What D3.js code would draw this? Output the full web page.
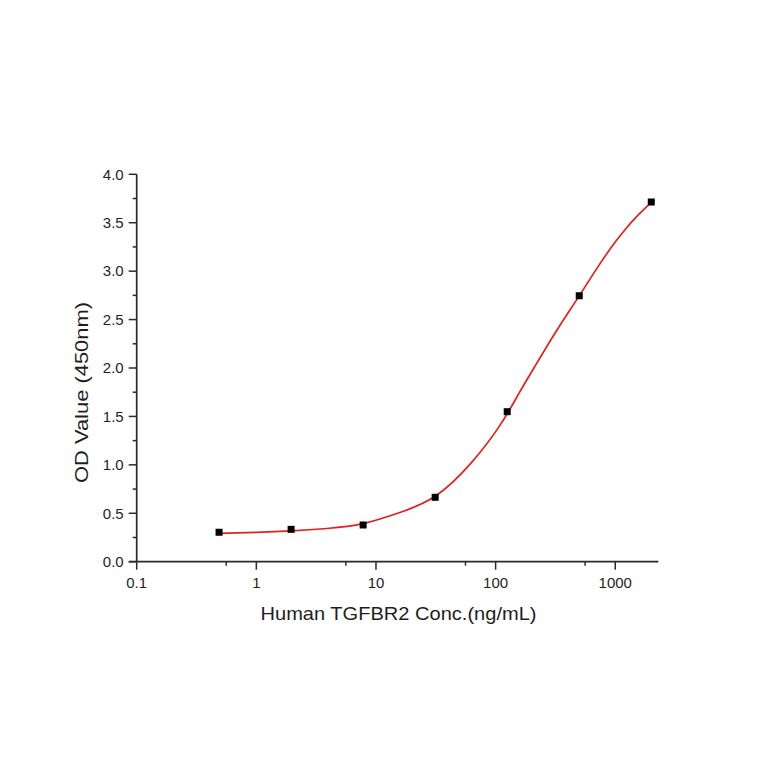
<!DOCTYPE html>
<html>
<head>
<meta charset="utf-8">
<script src="https://cdn.jsdelivr.net/npm/d3@7"></script>
<style>
  body { margin: 0; background: #fff; }
  svg { display: block; }
  text { font-family: Arial, "Liberation Sans", sans-serif; fill: #1e1e1e; }
</style>
</head>
<body>
<svg id="chart" width="764" height="764"></svg>
<script>
// measured points (4-fold dilution)
const conc = [0.488, 1.953, 7.8125, 31.25, 125, 500, 2000];
const od = [0.304, 0.334, 0.379, 0.665, 1.549, 2.746, 3.714];

// fitted curve
const fitConc = [0.488, 1, 1.953, 3.9, 7.8125, 15.6, 31.25, 62.5, 109, 157, 221, 325, 500, 748, 1000, 1211, 1500, 2000];
const fitOd = [0.293, 0.303, 0.318, 0.343, 0.393, 0.505, 0.675, 1.02, 1.41, 1.74, 2.05, 2.39, 2.745, 3.08, 3.30, 3.43, 3.56, 3.71];

const xTicks = [0.1, 1, 10, 100, 1000];
const xMinor = [0.56, 5.6, 56, 560];
const yTicks = [0, 0.5, 1, 1.5, 2, 2.5, 3, 3.5, 4];
const yMinor = [0.25, 0.75, 1.25, 1.75, 2.25, 2.75, 3.25, 3.75];

const svg = d3.select('#chart');
const pLeft = 136.7, pRight = 658.3, pTop = 174.3, pBottom = 561.7;

const x = d3.scaleLog().domain([0.1, 2290]).range([pLeft, pRight]);
const y = d3.scaleLinear().domain([0, 4]).range([pBottom, pTop]);

const axisColor = '#2a2a2a';

// y axis
const yAxis = svg.append('g').attr('transform', `translate(${pLeft},0)`);
yAxis.append('line')
    .attr('y1', pBottom).attr('y2', pTop)
    .attr('stroke', axisColor).attr('stroke-width', 1.7);
yAxis.selectAll('.ymaj')
    .data(yTicks)
    .enter()
    .append('line')
    .attr('x1', -8).attr('x2', 0)
    .attr('y1', d => y(d)).attr('y2', d => y(d))
    .attr('stroke', axisColor).attr('stroke-width', 1.5);
yAxis.selectAll('.ymin')
    .data(yMinor)
    .enter()
    .append('line')
    .attr('x1', -4).attr('x2', 0)
    .attr('y1', d => y(d)).attr('y2', d => y(d))
    .attr('stroke', axisColor).attr('stroke-width', 1.5);
yAxis.selectAll('.ylab')
    .data(yTicks)
    .enter()
    .append('text')
    .attr('x', -13)
    .attr('y', d => y(d))
    .attr('dy', '0.35em')
    .attr('text-anchor', 'end')
    .attr('font-size', 15)
    .text(d => d.toFixed(1));

// x axis
const xAxis = svg.append('g').attr('transform', `translate(0,${pBottom})`);
xAxis.append('line')
    .attr('x1', pLeft - 8).attr('x2', pRight)
    .attr('stroke', axisColor).attr('stroke-width', 1.7);
xAxis.selectAll('.xmaj')
    .data(xTicks)
    .enter()
    .append('line')
    .attr('x1', d => x(d)).attr('x2', d => x(d))
    .attr('y1', 0).attr('y2', 8)
    .attr('stroke', axisColor).attr('stroke-width', 1.5);
xAxis.selectAll('.xmin')
    .data(xMinor)
    .enter()
    .append('line')
    .attr('x1', d => x(d)).attr('x2', d => x(d))
    .attr('y1', 0).attr('y2', 4)
    .attr('stroke', axisColor).attr('stroke-width', 1.5);
xAxis.selectAll('.xlab')
    .data(xTicks)
    .enter()
    .append('text')
    .attr('x', d => x(d))
    .attr('y', 26)
    .attr('text-anchor', 'middle')
    .attr('font-size', 15)
    .text(d => String(d));

// axis titles
svg.append('text')
    .attr('x', 398.5).attr('y', 620)
    .attr('text-anchor', 'middle')
    .attr('font-size', 19)
    .attr('textLength', 276)
    .attr('lengthAdjust', 'spacingAndGlyphs')
    .text('Human TGFBR2 Conc.(ng/mL)');
svg.append('text')
    .attr('transform', 'translate(87.5,392.5) rotate(-90)')
    .attr('text-anchor', 'middle')
    .attr('font-size', 19)
    .attr('textLength', 181)
    .attr('lengthAdjust', 'spacingAndGlyphs')
    .text('OD Value (450nm)');

// fitted curve
const line = d3.line()
    .x((d, i) => x(fitConc[i]))
    .y(d => y(d))
    .curve(d3.curveNatural);
svg.append('path')
    .datum(fitOd)
    .attr('d', line)
    .attr('fill', 'none')
    .attr('stroke', '#e3201b')
    .attr('stroke-width', 1.7);

// data markers
svg.selectAll('.pt')
    .data(od)
    .enter()
    .append('rect')
    .classed('pt', true)
    .attr('x', (d, i) => x(conc[i]) - 3.5)
    .attr('y', d => y(d) - 3.5)
    .attr('width', 7).attr('height', 7)
    .attr('fill', '#000');
</script>
</body>
</html>
